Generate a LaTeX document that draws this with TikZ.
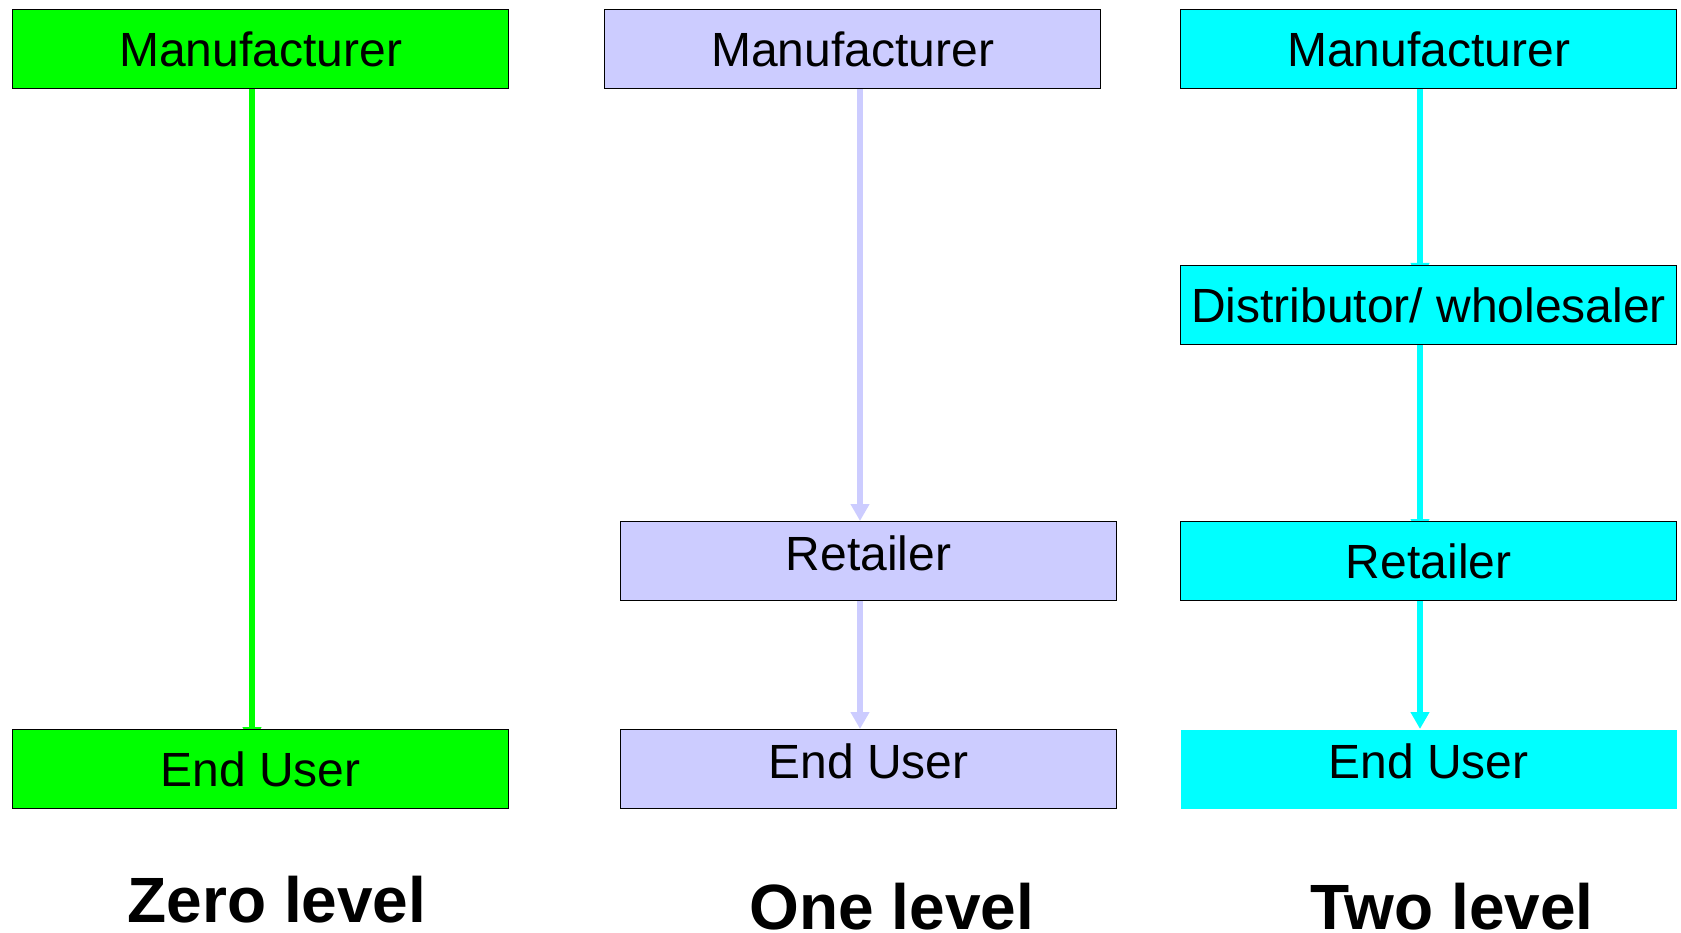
\documentclass[tikz,border=0pt]{standalone}
\usepackage{fontspec}
\setmainfont{Liberation Sans}
\usetikzlibrary{arrows.meta,backgrounds}
\definecolor{zgreen}{HTML}{00FF00}
\definecolor{olav}{HTML}{CCCCFF}
\definecolor{tcyan}{HTML}{00FFFF}
\tikzset{
  box/.style={draw=black, line width=1.3pt, minimum width=496pt, minimum height=79pt,
    inner sep=0pt, text height=34pt, text depth=0pt, anchor=north west,
    font=\fontsize{48}{58}\selectfont},
  raised/.style={text depth=16pt},
  gbox/.style={box, fill=zgreen},
  lbox/.style={box, fill=olav},
  cbox/.style={box, fill=tcyan},
  conn/.style={line width=6pt, -{Triangle[width=18pt,length=17pt]}},
  level/.style={anchor=base, inner sep=0pt, font=\fontsize{64}{76}\selectfont\bfseries},
}
\begin{document}
\begin{tikzpicture}[x=1pt,y=-1pt]
\useasboundingbox (0,0) rectangle (1681,933);
% Zero level
\node[gbox] (m1) at (12,9) {Manufacturer};
\node[gbox] (e1) at (12,729) {End User};
% One level
\node[lbox] (m2) at (604,9) {Manufacturer};
\node[lbox, raised] (r2) at (620,521) {Retailer};
\node[lbox, raised] (e2) at (620,729) {End User};
% Two level
\node[cbox] (m3) at (1180,9) {Manufacturer};
\node[cbox] (d3) at (1180,265) {Distributor/ wholesaler};
\node[cbox] (r3) at (1180,521) {Retailer};
\node[cbox, draw=none, raised] (e3) at (1180,729) {End User};
% connectors
\begin{pgfonlayer}{background}
\draw[conn, zgreen] (m1.south -| 252,0) -- ([yshift=-15pt]e1.north -| 252,0);
\draw[conn, tcyan] (m3.south -| 1420,0) -- ([yshift=-15pt]d3.north -| 1420,0);
\draw[conn, tcyan] (d3.south -| 1420,0) -- ([yshift=-15pt]r3.north -| 1420,0);
\end{pgfonlayer}
\draw[conn, olav] (m2.south -| 860,0) -- (r2.north -| 860,0);
\draw[conn, olav] (r2.south -| 860,0) -- (e2.north -| 860,0);
\draw[conn, tcyan] (r3.south -| 1420,0) -- (e3.north -| 1420,0);
% labels
\node[level] (l1) at (277,922) {Zero level};
\node[level] (l2) at (892,929) {One level};
\node[level] (l3) at (1452,929) {Two level};
\end{tikzpicture}
\end{document}
